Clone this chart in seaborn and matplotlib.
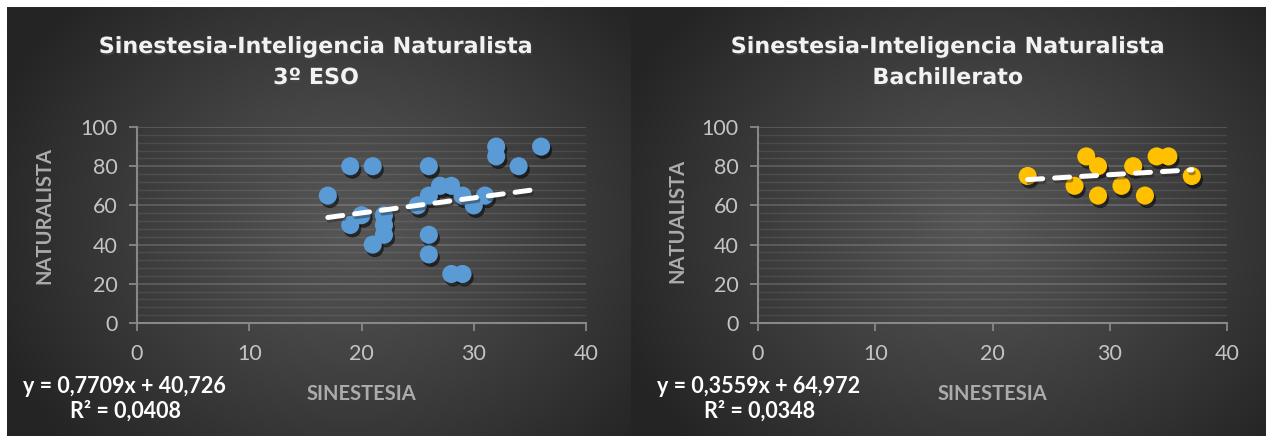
import numpy as np
import pandas as pd
import matplotlib
matplotlib.use("Agg")
import matplotlib.pyplot as plt
import matplotlib.patheffects as pe
from matplotlib.ticker import MultipleLocator
import seaborn as sns

# ---------------- data ----------------
eso_sinestesia = [17, 19, 21, 26, 19, 20, 21, 22, 22, 22, 25, 26, 27, 28, 29, 30, 31, 32, 32, 34, 36, 26, 26, 28, 29]
eso_naturalista = [65, 80, 80, 80, 50, 55, 40, 55, 50, 45, 60, 65, 70, 70, 65, 60, 65, 90, 85, 80, 90, 45, 35, 25, 25]
bach_sinestesia = [23, 28, 29, 27, 29, 31, 32, 33, 34, 35, 37]
bach_naturalista = [75, 85, 80, 70, 65, 70, 80, 65, 85, 85, 75]

# linear trend lines as printed on the chart (slope, intercept)
eso_fit = [0.7709, 40.726]
bach_fit = [0.3559, 64.972]

titles = ["Sinestesia-Inteligencia Naturalista\n3º ESO",
          "Sinestesia-Inteligencia Naturalista\nBachillerato"]
xlabels = ["SINESTESIA", "SINESTESIA"]
ylabels = ["NATURALISTA", "NATUALISTA"]
equations = [("y = 0,7709x + 40,726", "R² = 0,0408"),
             ("y = 0,3559x + 64,972", "R² = 0,0348")]
x_ticks = [0, 10, 20, 30, 40]
y_ticks = [0, 20, 40, 60, 80, 100]
colors = ["#5b9bd5", "#ffc000"]

datasets = [
    pd.DataFrame({"SINESTESIA": eso_sinestesia, "NATURALISTA": eso_naturalista}),
    pd.DataFrame({"SINESTESIA": bach_sinestesia, "NATURALISTA": bach_naturalista}),
]
fits = [eso_fit, bach_fit]

# ---------------- figure ----------------
sns.set_theme(style="dark")
plt.rcParams["font.family"] = ["Lato", "DejaVu Sans"]

W, H = 1266, 436
fig = plt.figure(figsize=(W / 100, H / 100), dpi=100)
fig.patch.set_facecolor("white")

# background gradient panels (Excel-like dark radial fill)
bg = fig.add_axes([0, 0, 1, 1])
bg.set_zorder(-5)
yy, xx = np.mgrid[0:H, 0:W]
img = np.ones((H, W, 3))
edge = np.array([0x24, 0x24, 0x24]) / 255.0
center = np.array([0x56, 0x56, 0x56]) / 255.0
for (x0, x1), cx in [((7, 631), 350), ((631, 1266), 980)]:
    cy = 225
    rx = (x1 - x0) * 0.62
    ry = (H - 8) * 0.75
    r = np.sqrt(((xx - cx) / rx) ** 2 + ((yy - cy) / ry) ** 2)
    t = np.clip(r, 0, 1) ** 1.1
    col = center + (edge - center) * t[..., None]
    mask = (xx >= x0) & (xx < x1) & (yy >= 8)
    img[mask] = col[mask]
bg.imshow(img, extent=[0, W, H, 0], aspect="auto", interpolation="bilinear")
bg.set_xlim(0, W)
bg.set_ylim(H, 0)
bg.axis("off")


def fx(px):
    return px / W


def fy(py):
    return 1 - py / H


axes_px = [(137, 586), (758, 1227)]
ytop, ybot = 127, 323
title_cx = [316, 948]
eq_cx = [124, 759]
ylab_pos = [(-0.183, 0.55), (-0.151, 0.52)]

tick_col = "#c4c4c4"
lab_col = "#ababab"
spine_col = "#888888"

for i, df in enumerate(datasets):
    x0, x1 = axes_px[i]
    ax = fig.add_axes([fx(x0), fy(ybot), (x1 - x0) / W, (ybot - ytop) / H])
    ax.set_facecolor("none")

    sns.scatterplot(data=df, x="SINESTESIA", y="NATURALISTA", ax=ax,
                    color=colors[i], s=170, edgecolor="none", zorder=3,
                    path_effects=[pe.SimplePatchShadow(offset=(1.5, -2.5), shadow_rgbFace="black", alpha=0.55),
                                  pe.Normal()])

    slope, intercept = fits[i]
    xs = np.array([df["SINESTESIA"].min(), df["SINESTESIA"].max()], dtype=float)
    trend = pd.DataFrame({"SINESTESIA": xs, "NATURALISTA": slope * xs + intercept})
    line = sns.lineplot(data=trend, x="SINESTESIA", y="NATURALISTA", ax=ax,
                        color="white", lw=3.6, zorder=4).lines[-1]
    line.set_linestyle((0, (3.0, 2.4)))
    line.set_dash_capstyle("round")
    line.set_path_effects([pe.SimpleLineShadow(offset=(1, -2), alpha=0.4), pe.Normal()])

    ax.set_xlim(0, 40)
    ax.set_ylim(0, 100)
    ax.set_xticks(x_ticks)
    ax.set_yticks(y_ticks)
    ax.yaxis.set_minor_locator(MultipleLocator(4))
    ax.grid(False)
    ax.grid(axis="y", which="major", color="white", alpha=0.17, lw=1.3, zorder=0)
    ax.grid(axis="y", which="minor", color="white", alpha=0.09, lw=1.0, zorder=0)
    ax.set_axisbelow(True)

    for s in ["top", "right"]:
        ax.spines[s].set_visible(False)
    for s in ["left", "bottom"]:
        ax.spines[s].set_visible(True)
        ax.spines[s].set_color(spine_col)
        ax.spines[s].set_linewidth(1.5)

    ax.tick_params(axis="both", which="major", direction="out", length=6, width=1.3,
                   color=spine_col, labelcolor=tick_col, labelsize=15.5, bottom=True, left=True)
    ax.tick_params(axis="x", pad=9)
    ax.tick_params(axis="y", pad=8)
    ax.tick_params(axis="y", which="minor", left=False)

    ax.set_xlabel(xlabels[i], fontsize=14.5, fontweight="bold", color=lab_col)
    ax.xaxis.set_label_coords(0.5, -0.311)
    ax.set_ylabel(ylabels[i], fontsize=14.5, fontweight="bold", color=lab_col)
    ax.yaxis.set_label_coords(*ylab_pos[i])

    # title
    l1, l2 = titles[i].split("\n")
    for txt, py in [(l1, 47), (l2, 78)]:
        fig.text(fx(title_cx[i]), fy(py), txt, ha="center", va="center",
                 fontsize=16, fontweight="bold", color="#f2f2f2",
                 family=["DejaVu Sans"],
                 path_effects=[pe.withSimplePatchShadow(offset=(1, -1.5), alpha=0.6)])

    # equation
    e1, e2 = equations[i]
    fig.text(fx(eq_cx[i]), fy(386), e1, ha="center", va="center",
             fontsize=15.5, fontweight="bold", color="white")
    fig.text(fx(eq_cx[i] + 1), fy(411), e2, ha="center", va="center",
             fontsize=15.5, fontweight="bold", color="white")

fig.savefig("out.png", dpi=100, facecolor=fig.get_facecolor())
